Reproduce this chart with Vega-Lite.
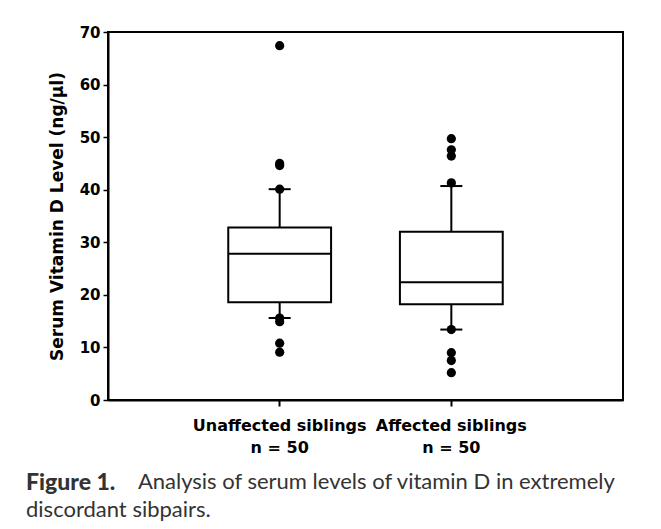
{
  "$schema": "https://vega.github.io/schema/vega-lite/v6.json",
  "width": 515,
  "height": 368,
  "autosize": "none",
  "padding": {"left": 108, "top": 32, "right": 38, "bottom": 129},
  "background": "white",
  "datasets": {
    "summary": [
      {"group": "Unaffected siblings", "lo": 15.6, "q1": 18.6, "median": 27.8, "q3": 32.8, "hi": 40.1},
      {"group": "Affected siblings", "lo": 13.4, "q1": 18.2, "median": 22.4, "q3": 32.0, "hi": 40.7}
    ],
    "outliers": [
      {"group": "Unaffected siblings", "value": 67.4},
      {"group": "Unaffected siblings", "value": 45.0},
      {"group": "Unaffected siblings", "value": 44.6},
      {"group": "Unaffected siblings", "value": 40.1},
      {"group": "Unaffected siblings", "value": 15.6},
      {"group": "Unaffected siblings", "value": 14.9},
      {"group": "Unaffected siblings", "value": 10.8},
      {"group": "Unaffected siblings", "value": 9.1},
      {"group": "Affected siblings", "value": 49.7},
      {"group": "Affected siblings", "value": 47.6},
      {"group": "Affected siblings", "value": 46.4},
      {"group": "Affected siblings", "value": 41.3},
      {"group": "Affected siblings", "value": 13.4},
      {"group": "Affected siblings", "value": 9.0},
      {"group": "Affected siblings", "value": 7.5},
      {"group": "Affected siblings", "value": 5.2}
    ]
  },
  "title": {
    "text": "Figure 1.",
    "subtitle": ["\u200c\u00a0\u00a0\u00a0\u00a0\u00a0\u00a0\u00a0\u00a0\u00a0\u00a0\u00a0\u00a0\u00a0\u00a0\u00a0\u00a0\u00a0\u00a0\u00a0\u00a0Analysis of serum levels of vitamin D in extremely", "discordant sibpairs."],
    "orient": "bottom",
    "anchor": "start",
    "frame": "group",
    "dx": -82,
    "offset": 17,
    "font": "Lato",
    "fontSize": 23,
    "fontWeight": 900,
    "color": "#333333",
    "subtitleFont": "Lato",
    "subtitleFontSize": 22,
    "subtitleColor": "#333333",
    "subtitleLineHeight": 28,
    "subtitlePadding": -23
  },
  "encoding": {
    "x": {
      "field": "group",
      "type": "nominal",
      "sort": ["Unaffected siblings", "Affected siblings"],
      "scale": {"type": "band", "paddingInner": 0.401, "paddingOuter": 0.7006},
      "axis": {
        "title": null,
        "labelAngle": 0,
        "labelExpr": "[datum.value, 'n = 50']",
        "labelFont": "DejaVu Sans",
        "labelFontWeight": "bold",
        "labelFontSize": 16,
        "labelColor": "black",
        "labelPadding": 11,
        "labelLineHeight": 22,
        "labelOverlap": false,
        "domainColor": "black",
        "domainWidth": 2,
        "tickColor": "black",
        "tickWidth": 2,
        "tickSize": 6
      }
    }
  },
  "layer": [
    {
      "data": {"name": "summary"},
      "mark": {"type": "rule", "color": "black", "strokeWidth": 2},
      "encoding": {
        "y": {
          "field": "lo", "type": "quantitative", "title": "Serum Vitamin D Level (ng/µl)",
          "scale": {"domain": [0, 70], "nice": false},
          "axis": {"values": [0, 10, 20, 30, 40, 50, 60, 70], "grid": false}
        },
        "y2": {"field": "hi"}
      }
    },
    {
      "data": {"name": "summary"},
      "mark": {"type": "bar", "fill": "white", "stroke": "black", "strokeWidth": 2},
      "encoding": {
        "y": {"field": "q1", "type": "quantitative", "title": "Serum Vitamin D Level (ng/µl)", "axis": {"values": [0, 10, 20, 30, 40, 50, 60, 70], "grid": false}},
        "y2": {"field": "q3"}
      }
    },
    {
      "data": {"name": "summary"},
      "mark": {"type": "tick", "color": "black", "thickness": 2, "size": 103, "opacity": 1},
      "encoding": {
        "y": {"field": "median", "type": "quantitative", "title": "Serum Vitamin D Level (ng/µl)", "axis": {"values": [0, 10, 20, 30, 40, 50, 60, 70], "grid": false}}
      }
    },
    {
      "data": {"name": "summary"},
      "mark": {"type": "tick", "color": "black", "thickness": 2, "size": 22, "opacity": 1},
      "encoding": {
        "y": {"field": "lo", "type": "quantitative", "title": "Serum Vitamin D Level (ng/µl)", "axis": {"values": [0, 10, 20, 30, 40, 50, 60, 70], "grid": false}}
      }
    },
    {
      "data": {"name": "summary"},
      "mark": {"type": "tick", "color": "black", "thickness": 2, "size": 22, "opacity": 1},
      "encoding": {
        "y": {"field": "hi", "type": "quantitative", "title": "Serum Vitamin D Level (ng/µl)", "axis": {"values": [0, 10, 20, 30, 40, 50, 60, 70], "grid": false}}
      }
    },
    {
      "data": {"name": "outliers"},
      "mark": {"type": "point", "filled": true, "color": "black", "size": 85, "opacity": 1},
      "encoding": {
        "y": {"field": "value", "type": "quantitative", "title": "Serum Vitamin D Level (ng/µl)", "axis": {"values": [0, 10, 20, 30, 40, 50, 60, 70], "grid": false}}
      }
    }
  ],
  "config": {
    "view": {"stroke": "black", "strokeWidth": 2},
    "axisY": {
      "grid": false,
      "labelFont": "DejaVu Sans",
      "labelFontWeight": "bold",
      "labelFontSize": 15,
      "labelColor": "black",
      "labelPadding": 3,
      "titleFont": "DejaVu Sans",
      "titleFontWeight": "bold",
      "titleFontSize": 17,
      "titleColor": "black",
      "titlePadding": 13,
      "domainColor": "black",
      "domainWidth": 2,
      "tickColor": "black",
      "tickWidth": 1.5,
      "tickSize": 5
    }
  }
}
